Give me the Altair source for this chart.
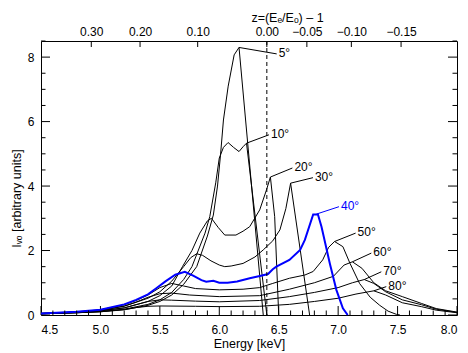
import altair as alt
import pandas as pd

# Rest-frame line energy (keV) used for the redshift axis on top
E_REST = 6.4

curve_names = ["5°", "10°", "20°", "30°", "40°", "50°", "60°", "70°", "80°"]

# Line profiles for each disk inclination: energy (keV) and intensity
e_05 = [4.5, 4.8, 5.0, 5.2, 5.4, 5.5, 5.6, 5.7, 5.81, 5.9, 5.95, 5.985, 6.01, 6.035, 6.075, 6.125, 6.166, 6.37]
i_05 = [0.04, 0.07, 0.1, 0.16, 0.3, 0.42, 0.62, 0.95, 1.5, 2.45, 3.1, 4.0, 4.95, 6.05, 7.1, 8.07, 8.3, 0.0]

e_10 = [4.5, 4.8, 5.0, 5.2, 5.4, 5.5, 5.6, 5.7, 5.77, 5.88, 5.92, 5.97, 6.0, 6.035, 6.074, 6.12, 6.166, 6.2, 6.229, 6.40]
i_10 = [0.04, 0.07, 0.11, 0.18, 0.33, 0.47, 0.7, 1.1, 1.5, 2.54, 3.05, 4.1, 4.87, 5.2, 5.35, 5.2, 5.07, 5.22, 5.33, 0.0]

e_20 = [4.5, 4.8, 5.0, 5.2, 5.4, 5.5, 5.6, 5.69, 5.77, 5.836, 5.9, 5.934, 5.99, 6.046, 6.14, 6.2, 6.256, 6.34, 6.397, 6.43, 6.466, 6.50]
i_20 = [0.04, 0.08, 0.13, 0.22, 0.42, 0.6, 0.9, 1.5, 2.0, 2.54, 2.92, 3.0, 2.72, 2.48, 2.48, 2.6, 2.74, 3.26, 3.88, 4.28, 3.05, 0.0]

e_30 = [4.5, 4.8, 5.0, 5.2, 5.4, 5.5, 5.6, 5.7, 5.76, 5.81, 5.86, 5.93, 6.0, 6.046, 6.1, 6.2, 6.3, 6.37, 6.45, 6.51, 6.56, 6.60, 6.76]
i_30 = [0.05, 0.09, 0.14, 0.27, 0.52, 0.72, 1.05, 1.5, 1.78, 1.9, 1.85, 1.68, 1.55, 1.5, 1.52, 1.6, 1.8, 2.02, 2.3, 2.64, 3.3, 4.09, 0.0]

e_40 = [4.5, 4.8, 5.0, 5.2, 5.3, 5.4, 5.47, 5.55, 5.63, 5.71, 5.78, 5.85, 5.89, 5.95, 6.0, 6.07, 6.15, 6.256, 6.35, 6.41, 6.45, 6.48, 6.59, 6.68, 6.72, 6.79, 6.83, 6.86, 6.93, 6.985, 7.04, 7.08]
i_40 = [0.05, 0.1, 0.16, 0.33, 0.47, 0.64, 0.83, 1.05, 1.25, 1.34, 1.22, 1.08, 1.03, 1.06, 1.0, 1.0, 1.04, 1.14, 1.22, 1.27, 1.42, 1.5, 1.71, 2.02, 2.33, 3.12, 3.12, 2.74, 1.6, 0.78, 0.21, 0.0]

e_50 = [4.5, 4.8, 5.0, 5.2, 5.3, 5.4, 5.5, 5.6, 5.7, 5.8, 6.0, 6.2, 6.34, 6.45, 6.59, 6.72, 6.79, 6.87, 6.92, 6.97, 7.04, 7.1, 7.18, 7.27, 7.35, 7.42, 7.49, 7.52]
i_50 = [0.05, 0.1, 0.16, 0.32, 0.45, 0.62, 0.85, 0.98, 0.9, 0.82, 0.78, 0.8, 0.85, 0.98, 1.14, 1.24, 1.35, 1.71, 2.1, 2.28, 2.12, 1.6, 0.98, 0.55, 0.3, 0.12, 0.02, 0.0]

e_60 = [4.5, 4.8, 5.0, 5.2, 5.3, 5.4, 5.5, 5.6, 5.75, 6.0, 6.34, 6.59, 6.8, 6.96, 7.05, 7.12, 7.2, 7.3, 7.4, 7.54, 7.7, 7.825, 8.0]
i_60 = [0.05, 0.09, 0.15, 0.28, 0.4, 0.55, 0.66, 0.68, 0.62, 0.57, 0.6, 0.8, 1.0, 1.2, 1.55, 1.65, 1.45, 1.0, 0.75, 0.57, 0.36, 0.2, 0.09]

e_70 = [4.5, 4.8, 5.0, 5.2, 5.3, 5.4, 5.5, 5.6, 5.8, 6.0, 6.34, 6.59, 6.8, 7.0, 7.12, 7.22, 7.3, 7.4, 7.54, 7.7, 7.825, 8.0]
i_70 = [0.04, 0.08, 0.13, 0.22, 0.32, 0.42, 0.47, 0.46, 0.43, 0.41, 0.45, 0.57, 0.7, 0.85, 1.0, 1.1, 0.98, 0.72, 0.47, 0.32, 0.18, 0.08]

e_80 = [4.5, 4.8, 5.0, 5.2, 5.3, 5.4, 5.5, 5.8, 6.0, 6.34, 6.59, 6.8, 7.0, 7.15, 7.3, 7.4, 7.54, 7.7, 7.825, 8.0]
i_80 = [0.04, 0.07, 0.1, 0.17, 0.23, 0.27, 0.28, 0.27, 0.26, 0.27, 0.33, 0.42, 0.52, 0.65, 0.75, 0.62, 0.38, 0.26, 0.15, 0.07]

energies = [e_05, e_10, e_20, e_30, e_40, e_50, e_60, e_70, e_80]
intensities = [i_05, i_10, i_20, i_30, i_40, i_50, i_60, i_70, i_80]

# Curve labels: leader line from the peak to the label anchor
label_peak_e = [6.166, 6.229, 6.43, 6.60, 6.817, 6.97, 7.12, 7.22, 7.30]
label_peak_i = [8.30, 5.33, 4.28, 4.09, 3.13, 2.28, 1.65, 1.10, 0.75]
label_end_e = [6.483, 6.418, 6.615, 6.788, 7.007, 7.147, 7.279, 7.363, 7.405]
label_end_i = [8.10, 5.59, 4.56, 4.26, 3.36, 2.54, 1.92, 1.34, 0.88]

# Axis ticks
x_major = [4.5, 5.0, 5.5, 6.0, 6.5, 7.0, 7.5, 8.0]
x_minor = [round(4.5 + 0.1 * k, 1) for k in range(36) if k % 5 != 0]
y_major = [0, 2, 4, 6, 8]
y_minor = [0.5 * k for k in range(18) if k % 4 != 0]
z_ticks = [0.30, 0.20, 0.10, 0.00, -0.05, -0.10, -0.15]
z_tick_e = [E_REST / (1 + z) for z in z_ticks]

W, H = 416, 274
FONT = "Liberation Sans"
BLUE = "#0000ff"

rows = []
for name, es, vs in zip(curve_names, energies, intensities):
    for e, v in zip(es, vs):
        rows.append({"inc": name, "E": e, "I": v})
curves = pd.DataFrame(rows)

labels = pd.DataFrame({
    "inc": curve_names,
    "pe": label_peak_e, "pi": label_peak_i,
    "le": label_end_e, "li": label_end_i,
})

xs = alt.Scale(domain=[4.5, 8.0], nice=False, zero=False)
ys = alt.Scale(domain=[0, 8.5], nice=False, zero=False)

color_scale = alt.Scale(domain=curve_names,
                        range=["black"] * 4 + [BLUE] + ["black"] * 4)

left_axis = alt.Axis(
    orient="left", title="Iᵥₒ [arbitrary units]", values=y_major,
    format="d", ticks=False, domain=False, grid=False, labelPadding=7,
    titleX=-21, titleY=157, titleAngle=270, titleAlign="center",
    titleBaseline="alphabetic")

bottom_axis = alt.Axis(
    orient="bottom", title="Energy [keV]", values=x_major, format=".1f",
    ticks=False, domain=False, grid=False, labelPadding=9, titleY=32,
    titleBaseline="alphabetic")

top_axis = alt.Axis(
    orient="top", values=z_tick_e, ticks=False, domain=False, grid=False,
    labelExpr=f"format({E_REST} / datum.value - 1, '.2f')",
    labelPadding=3, title="z=(Eₑ/Eₒ) – 1", titleX=246, titleY=-20,
    titleAlign="center", titleBaseline="alphabetic")


def xticks(values, y0, y1, axis=None):
    # Inward tick marks along the top or bottom edge
    return alt.Chart(pd.DataFrame({"E": values})).mark_rule(
        color="black", strokeWidth=1
    ).encode(x=alt.X("E:Q", scale=xs, axis=axis),
             y=alt.value(y0), y2=alt.value(y1))


def yticks(values, x0, x1, axis=None):
    # Inward tick marks along the left or right edge
    return alt.Chart(pd.DataFrame({"I": values})).mark_rule(
        color="black", strokeWidth=1
    ).encode(y=alt.Y("I:Q", scale=ys, axis=axis),
             x=alt.value(x0), x2=alt.value(x1))


black_lines = alt.Chart(curves[curves.inc != "40°"]).mark_line(
    strokeWidth=1, color="black"
).encode(
    x=alt.X("E:Q", scale=xs, axis=None),
    y=alt.Y("I:Q", scale=ys, axis=None),
    detail="inc:N",
)

blue_line = alt.Chart(curves[curves.inc == "40°"]).mark_line(
    strokeWidth=2, color=BLUE
).encode(
    x=alt.X("E:Q", scale=xs, axis=None),
    y=alt.Y("I:Q", scale=ys, axis=None),
)

leaders = alt.Chart(labels).mark_rule(strokeWidth=1).encode(
    x=alt.X("pe:Q", scale=xs, axis=None),
    y=alt.Y("pi:Q", scale=ys, axis=None),
    x2="le:Q",
    y2="li:Q",
    color=alt.Color("inc:N", scale=color_scale, legend=None),
)

label_text = alt.Chart(labels).mark_text(
    align="left", baseline="middle", dx=2, dy=-1, fontSize=12, font=FONT
).encode(
    x=alt.X("le:Q", scale=xs, axis=None),
    y=alt.Y("li:Q", scale=ys, axis=None),
    text="inc:N",
    color=alt.Color("inc:N", scale=color_scale, legend=None),
)

rest_line = alt.Chart(pd.DataFrame({"E": [E_REST]})).mark_rule(
    color="black", strokeWidth=1, strokeDash=[4, 3]
).encode(
    x=alt.X("E:Q", scale=xs, axis=None),
    y=alt.value(0),
    y2=alt.value(H),
)

chart = alt.layer(
    yticks(y_major, 0, 9, left_axis),
    xticks(x_major, H, H - 9, bottom_axis),
    xticks(z_tick_e, 0, 6, top_axis),
    black_lines,
    blue_line,
    rest_line,
    leaders,
    label_text,
    xticks(x_minor, H, H - 4.5),
    yticks(y_minor, 0, 4.5),
    yticks(y_major, W, W - 9),
    yticks(y_minor, W, W - 4.5),
).resolve_axis(
    x="independent", y="independent"
).properties(
    width=W,
    height=H,
    padding={"left": 41, "top": 41, "right": 11, "bottom": 38},
    autosize=alt.AutoSizeParams(type="none"),
).configure_view(
    stroke="black", strokeWidth=1
).configure_axis(
    labelFont=FONT, titleFont=FONT, labelFontSize=12, titleFontSize=12.5,
    labelColor="black", titleColor="black", titleFontWeight="normal",
)

chart.save("out.html", embed_options={"renderer": "svg", "actions": False})
